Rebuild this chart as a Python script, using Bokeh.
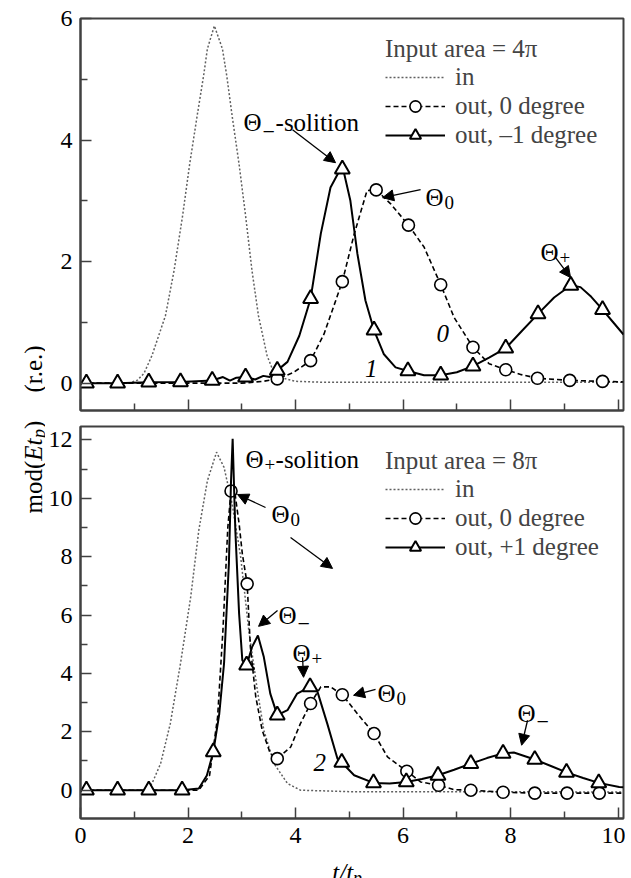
import math
from bokeh.plotting import figure
from bokeh.layouts import row, column
from bokeh.models import (Range1d, FixedTicker, Legend, LegendItem, Arrow, NormalHead,
                          ColumnDataSource)
from bokeh.core.properties import value
from bokeh.embed import file_html
from bokeh.resources import INLINE

# ---------------- data ----------------
X_MAJOR = [0, 2, 4, 6, 8, 10]
X_MINOR = [1, 3, 5, 7, 9]
TOP_Y_MAJOR = [0, 2, 4, 6]
TOP_Y_MINOR = [1, 3, 5]
BOT_Y_MAJOR = [0, 2, 4, 6, 8, 10, 12]
BOT_Y_MINOR = [1, 3, 5, 7, 9, 11]

# top panel: input area = 4 pi
top_in_x = [0.0, 0.9, 1.06, 1.18, 1.33, 1.58, 1.74, 1.90, 2.03, 2.17, 2.29, 2.36, 2.49,
            2.64, 2.72, 2.82, 2.95, 3.07, 3.19, 3.31, 3.47, 3.60, 3.78, 4.0, 4.5, 10.1]
top_in_y = [0.0, 0.0, 0.05, 0.16, 0.455, 1.11, 1.85, 2.76, 3.6, 4.40, 5.06, 5.50, 5.88,
            5.50, 5.06, 4.40, 3.6, 2.76, 1.85, 1.11, 0.455, 0.16, 0.08, 0.03, 0.015, 0.015]

top_out0_x = [0.0, 3.0, 3.4, 3.66, 3.95, 4.28, 4.53, 4.87, 5.09, 5.33, 5.50, 5.77, 6.10,
              6.39, 6.70, 6.95, 7.30, 7.60, 7.91, 8.20, 8.50, 9.10, 9.71, 10.1]
top_out0_y = [0.0, 0.0, 0.03, 0.07, 0.17, 0.37, 0.81, 1.67, 2.45, 3.17, 3.18, 2.95, 2.60,
              2.24, 1.62, 1.08, 0.59, 0.32, 0.22, 0.14, 0.08, 0.045, 0.03, 0.02]
top_out0_mx = [3.66, 4.28, 4.87, 5.50, 6.10, 6.70, 7.30, 7.91, 8.50, 9.10, 9.71]
top_out0_my = [0.07, 0.37, 1.67, 3.18, 2.60, 1.62, 0.59, 0.22, 0.08, 0.045, 0.03]

top_outm1_x = [0.0, 0.11, 0.69, 1.27, 1.86, 2.45, 2.65, 2.78, 2.90, 3.07, 3.25, 3.40, 3.52,
               3.66, 3.85, 4.07, 4.28, 4.47, 4.65, 4.87, 5.02, 5.15, 5.30, 5.46, 5.64, 5.86,
               6.09, 6.39, 6.70, 7.00, 7.30, 7.60, 7.91, 8.20, 8.51, 8.81, 9.12, 9.30, 9.50,
               9.71, 9.90, 10.1]
top_outm1_y = [0.0, 0.0, 0.0, 0.016, 0.02, 0.044, 0.10, 0.04, 0.09, 0.10, 0.06, 0.12, 0.10,
               0.21, 0.35, 0.78, 1.39, 2.46, 3.22, 3.58, 3.0, 2.13, 1.36, 0.87, 0.48, 0.26,
               0.20, 0.13, 0.13, 0.18, 0.28, 0.42, 0.575, 0.85, 1.14, 1.41, 1.61, 1.58, 1.42,
               1.21, 1.01, 0.80]
top_outm1_mx = [0.11, 0.69, 1.27, 1.86, 2.45, 3.07, 3.66, 4.28, 4.87, 5.46, 6.09, 6.70,
                7.30, 7.91, 8.51, 9.12, 9.71]
top_outm1_my = [0.0, 0.0, 0.016, 0.02, 0.044, 0.10, 0.21, 1.39, 3.52, 0.87, 0.20, 0.13,
                0.28, 0.575, 1.14, 1.61, 1.21]

# bottom panel: input area = 8 pi
bot_in_x = [0.0, 1.15, 1.24, 1.33, 1.49, 1.67, 1.86, 2.05, 2.20, 2.36, 2.53, 2.67, 2.82,
            2.98, 3.13, 3.29, 3.41, 3.60, 3.85, 4.09, 5.0, 10.1]
bot_in_y = [0.0, 0.0, 0.03, 0.23, 0.91, 2.28, 4.34, 6.62, 8.9, 10.6, 11.58, 11.06, 9.81,
            7.98, 5.48, 3.42, 2.05, 0.91, 0.23, 0.0, -0.05, -0.06]

bot_out0_x = [0.0, 2.2, 2.4, 2.55, 2.65, 2.74, 2.80, 2.86, 2.95, 3.01, 3.10, 3.16, 3.26,
              3.38, 3.53, 3.66, 3.91, 4.09, 4.28, 4.47, 4.65, 4.87, 5.15, 5.46, 5.71, 6.07,
              6.33, 6.66, 6.95, 7.26, 7.86, 8.45, 9.05, 9.65, 10.1]
bot_out0_y = [0.0, 0.0, 0.5, 2.5, 5.5, 9.0, 10.25, 10.35, 9.13, 8.1, 7.07, 4.9, 3.2, 2.05,
              1.26, 1.08, 1.48, 2.28, 2.97, 3.54, 3.54, 3.27, 2.62, 1.94, 1.14, 0.65, 0.28,
              0.17, 0.02, 0.0, -0.07, -0.1, -0.1, -0.1, -0.1]
bot_out0_mx = [2.80, 3.10, 3.66, 4.28, 4.87, 5.46, 6.07, 6.66, 7.26, 7.86, 8.45, 9.05, 9.65]
bot_out0_my = [10.25, 7.07, 1.08, 2.97, 3.27, 1.94, 0.65, 0.17, 0.0, -0.07, -0.1, -0.1, -0.1]

bot_outp1_x = [0.0, 0.11, 0.69, 1.27, 1.89, 2.20, 2.35, 2.47, 2.58, 2.67, 2.76, 2.80, 2.83,
               2.88, 2.95, 3.01, 3.09, 3.19, 3.30, 3.41, 3.53, 3.66, 3.85, 4.03, 4.27, 4.40,
               4.59, 4.78, 4.86, 5.09, 5.45, 5.75, 6.06, 6.35, 6.65, 6.95, 7.26, 7.56, 7.86,
               8.06, 8.45, 8.75, 9.04, 9.35, 9.64, 10.02, 10.1]
bot_outp1_y = [0.0, 0.0, 0.0, 0.0, 0.0, 0.06, 0.5, 1.31, 2.6, 4.34, 7.76, 10.6, 12.04,
               8.9, 6.05, 4.45, 4.28, 4.9, 5.30, 4.56, 3.31, 2.57, 2.74, 3.31, 3.54, 3.42,
               2.28, 1.08, 0.95, 0.51, 0.25, 0.23, 0.28, 0.38, 0.51, 0.70, 0.91, 1.10, 1.26,
               1.29, 1.05, 0.83, 0.61, 0.42, 0.25, 0.11, 0.10]
bot_outp1_mx = [0.11, 0.69, 1.27, 1.89, 2.47, 3.09, 3.66, 4.27, 4.86, 5.45, 6.06, 6.65,
                7.26, 7.86, 8.45, 9.04, 9.64]
bot_outp1_my = [0.0, 0.0, 0.0, 0.0, 1.31, 4.28, 2.57, 3.54, 0.95, 0.25, 0.28, 0.51, 0.91,
                1.26, 1.05, 0.61, 0.25]

# texts
top_title = "Input area = 4π"
bot_title = "Input area = 8π"
legend_labels_top = ["in", "out, 0 degree", "out, –1 degree"]
legend_labels_bot = ["in", "out, 0 degree", "out, +1 degree"]

# Θ annotations: anchor (data), subscript, trailing text
top_note_x = [3.033, 6.419, 8.558]
top_note_y = [4.284, 3.052, 2.148]
top_note_sub = ["−", "0", "+"]
top_note_tail = ["-solition", "", ""]
top_note_tail_dx = [32, 0, 0]

bot_note_x = [3.070, 3.553, 3.684, 3.944, 5.526, 8.130]
bot_note_y = [11.328, 9.446, 5.989, 4.689, 3.320, 2.635]
bot_note_sub = ["+", "0", "−", "+", "0", "−"]
bot_note_tail = ["-solition", "", "", "", "", ""]
bot_note_tail_dx = [30, 0, 0, 0, 0, 0]

# arrows (start -> end, data units)
top_arr_x0 = [3.944, 6.326, 8.837]
top_arr_y0 = [4.169, 3.183, 2.066]
top_arr_x1 = [4.744, 5.619, 9.116]
top_arr_y1 = [3.627, 3.052, 1.737]

bot_arr_x0 = [3.442, 3.907, 3.665, 4.130, 5.488, 8.316]
bot_arr_y0 = [9.685, 8.658, 6.160, 4.552, 3.457, 2.396]
bot_arr_x1 = [2.921, 4.688, 3.312, 4.149, 5.079, 8.205]
bot_arr_y1 = [10.130, 7.598, 5.613, 3.867, 3.251, 1.540]

# curve numbers
top_num_x = [6.74, 5.41]
top_num_y = [0.817, 0.242]
top_num_t = ["0", "1"]
bot_num_x = [4.45]
bot_num_y = [0.958]
bot_num_t = ["2"]

# ---------------- styling ----------------
FONT = "Liberation Serif"
FRAME = "#404040"


def make_panel(height, ylim, ymaj, ymin, b_top, b_bot, xlabels):
    p = figure(width=580, height=height, x_range=Range1d(0, 10.1), y_range=Range1d(*ylim),
               output_backend="svg", toolbar_location=None,
               min_border_left=35, min_border_right=2,
               min_border_top=b_top, min_border_bottom=b_bot)
    p.grid.visible = False
    p.outline_line_color = FRAME
    p.outline_line_width = 2
    p.background_fill_color = "white"
    p.border_fill_color = "white"
    for ax in (p.xaxis[0], p.yaxis[0]):
        ax.axis_line_color = FRAME
        ax.axis_line_width = 2
        ax.major_tick_in = 11
        ax.major_tick_out = 0
        ax.minor_tick_in = 7
        ax.minor_tick_out = 0
        ax.major_tick_line_color = FRAME
        ax.minor_tick_line_color = FRAME
        ax.major_tick_line_width = 1.5
        ax.minor_tick_line_width = 1.5
        ax.major_label_text_font = FONT
        ax.major_label_text_font_size = "24px"
        ax.major_label_text_color = "black"
    p.xaxis.ticker = FixedTicker(ticks=X_MAJOR, minor_ticks=X_MINOR)
    p.yaxis.ticker = FixedTicker(ticks=ymaj, minor_ticks=ymin)
    p.yaxis.major_label_standoff = 8
    p.xaxis.major_label_standoff = 9
    if not xlabels:
        p.xaxis.major_label_text_font_size = "0px"
        p.xaxis.major_label_text_alpha = 0
        p.xaxis.major_label_standoff = 0
    return p


def draw_curves(p, inx, iny, d_x, d_y, d_mx, d_my, s_x, s_y, s_mx, s_my,
                title, labels, loc):
    r_in = p.line(inx, iny, line_color="#606060", line_width=1.5, line_dash="2 2")
    r_d = p.line(d_x, d_y, line_color="black", line_width=1.6, line_dash="5 3")
    r_c = p.scatter(d_mx, d_my, marker="circle", size=12, fill_color="white",
                    line_color="black", line_width=1.6)
    r_s = p.line(s_x, s_y, line_color="black", line_width=2)
    r_t = p.scatter(s_mx, s_my, marker="triangle", size=15, fill_color="white",
                    line_color="black", line_width=2)
    leg = Legend(items=[LegendItem(label=labels[0], renderers=[r_in]),
                        LegendItem(label=labels[1], renderers=[r_d, r_c]),
                        LegendItem(label=labels[2], renderers=[r_s, r_t])],
                 title=title, location=loc, padding=0, margin=0, spacing=1,
                 glyph_width=60, glyph_height=28, label_standoff=10,
                 label_text_font=FONT, label_text_font_size="25px",
                 label_text_baseline="alphabetic",
                 title_text_font=FONT, title_text_font_size="25px",
                 title_text_font_style="normal", title_standoff=-4,
                 border_line_color=None, background_fill_alpha=0)
    p.add_layout(leg)


def draw_notes(p, xs, ys, subs, tails, tail_dx):
    common = dict(text_font=value(FONT), text_baseline="alphabetic", text_align="left",
                  text_color="black")
    p.text(x=xs, y=ys, text=["Θ"] * len(xs), text_font_size="25px", **common)
    sub_dy = [9 if s == "−" else 5 for s in subs]
    sub_size = ["22px" if s == "−" else "19px" for s in subs]
    p.text(x=xs, y=ys, text=subs, x_offset=19, y_offset=sub_dy, text_font_size=sub_size,
           **common)
    p.text(x=xs, y=ys, text=tails, x_offset=tail_dx, text_font_size="25px", **common)


def draw_arrows(p, x0, y0, x1, y1):
    src = ColumnDataSource(dict(x0=x0, y0=y0, x1=x1, y1=y1))
    p.add_layout(Arrow(end=NormalHead(size=11, fill_color="black", line_color="black",
                                      line_width=1),
                       x_start="x0", y_start="y0", x_end="x1", y_end="y1", source=src,
                       line_color="black", line_width=1.3))


def draw_nums(p, xs, ys, ts):
    p.text(x=xs, y=ys, text=ts, text_font=value(FONT), text_font_style="italic",
           text_font_size="25px", text_baseline="alphabetic", text_align="center",
           text_color="black")


top = make_panel(418, (-0.45, 6.0), TOP_Y_MAJOR, TOP_Y_MINOR, 18, 8, False)
draw_curves(top, top_in_x, top_in_y, top_out0_x, top_out0_y, top_out0_mx, top_out0_my,
            top_outm1_x, top_outm1_y, top_outm1_mx, top_outm1_my,
            top_title, legend_labels_top, (305, 261))
draw_notes(top, top_note_x, top_note_y, top_note_sub, top_note_tail, top_note_tail_dx)
draw_arrows(top, top_arr_x0, top_arr_y0, top_arr_x1, top_arr_y1)
draw_nums(top, top_num_x, top_num_y, top_num_t)

bot = make_panel(440, (-0.97, 12.46), BOT_Y_MAJOR, BOT_Y_MINOR, 8, 40, True)
draw_curves(bot, bot_in_x, bot_in_y, bot_out0_x, bot_out0_y, bot_out0_mx, bot_out0_my,
            bot_outp1_x, bot_outp1_y, bot_outp1_mx, bot_outp1_my,
            bot_title, legend_labels_bot, (305, 257))
draw_notes(bot, bot_note_x, bot_note_y, bot_note_sub, bot_note_tail, bot_note_tail_dx)
draw_arrows(bot, bot_arr_x0, bot_arr_y0, bot_arr_x1, bot_arr_y1)
draw_nums(bot, bot_num_x, bot_num_y, bot_num_t)

# x axis label t/t_p in a thin strip under the bottom panel
xlab = figure(width=580, height=20, x_range=Range1d(0, 580), y_range=Range1d(0, 20),
              output_backend="svg", toolbar_location=None, min_border=0,
              x_axis_location=None, y_axis_location=None)
xlab.grid.visible = False
xlab.outline_line_color = None
xlab.text(x=[269], y=[6], text=["t/t"], text_font=value(FONT), text_font_style="italic",
          text_font_size="25px", text_baseline="alphabetic", text_align="left",
          text_color="black")
xlab.text(x=[291], y=[0.5], text=["p"], text_font=value(FONT), text_font_style="italic",
          text_font_size="18px", text_baseline="alphabetic", text_align="left",
          text_color="black")

# y axis label (spans both panels) in a narrow figure
lab = figure(width=45, height=878, x_range=Range1d(0, 45), y_range=Range1d(0, 878),
             output_backend="svg", toolbar_location=None, min_border=0,
             x_axis_location=None, y_axis_location=None)
lab.grid.visible = False
lab.outline_line_color = None
lab_common = dict(text_font=value(FONT), text_baseline="alphabetic", text_align="left",
                  text_color="black", angle=math.pi / 2)
lab.text(x=[33, 33, 33], y=[365, 449.5, 486], text=["mod(", ")", "(r.e.)"],
         text_font_size="25px", **lab_common)
lab.text(x=[33, 33], y=[417.8, 433.1], text=["E", "t"], text_font_size="25px",
         text_font_style="italic", **lab_common)
lab.text(x=[38], y=[440.5], text=["p"], text_font_size="18px", text_font_style="italic",
         **lab_common)

layout = row(lab, column(top, bot, xlab))
open("out.html", "w").write(file_html(layout, INLINE))
